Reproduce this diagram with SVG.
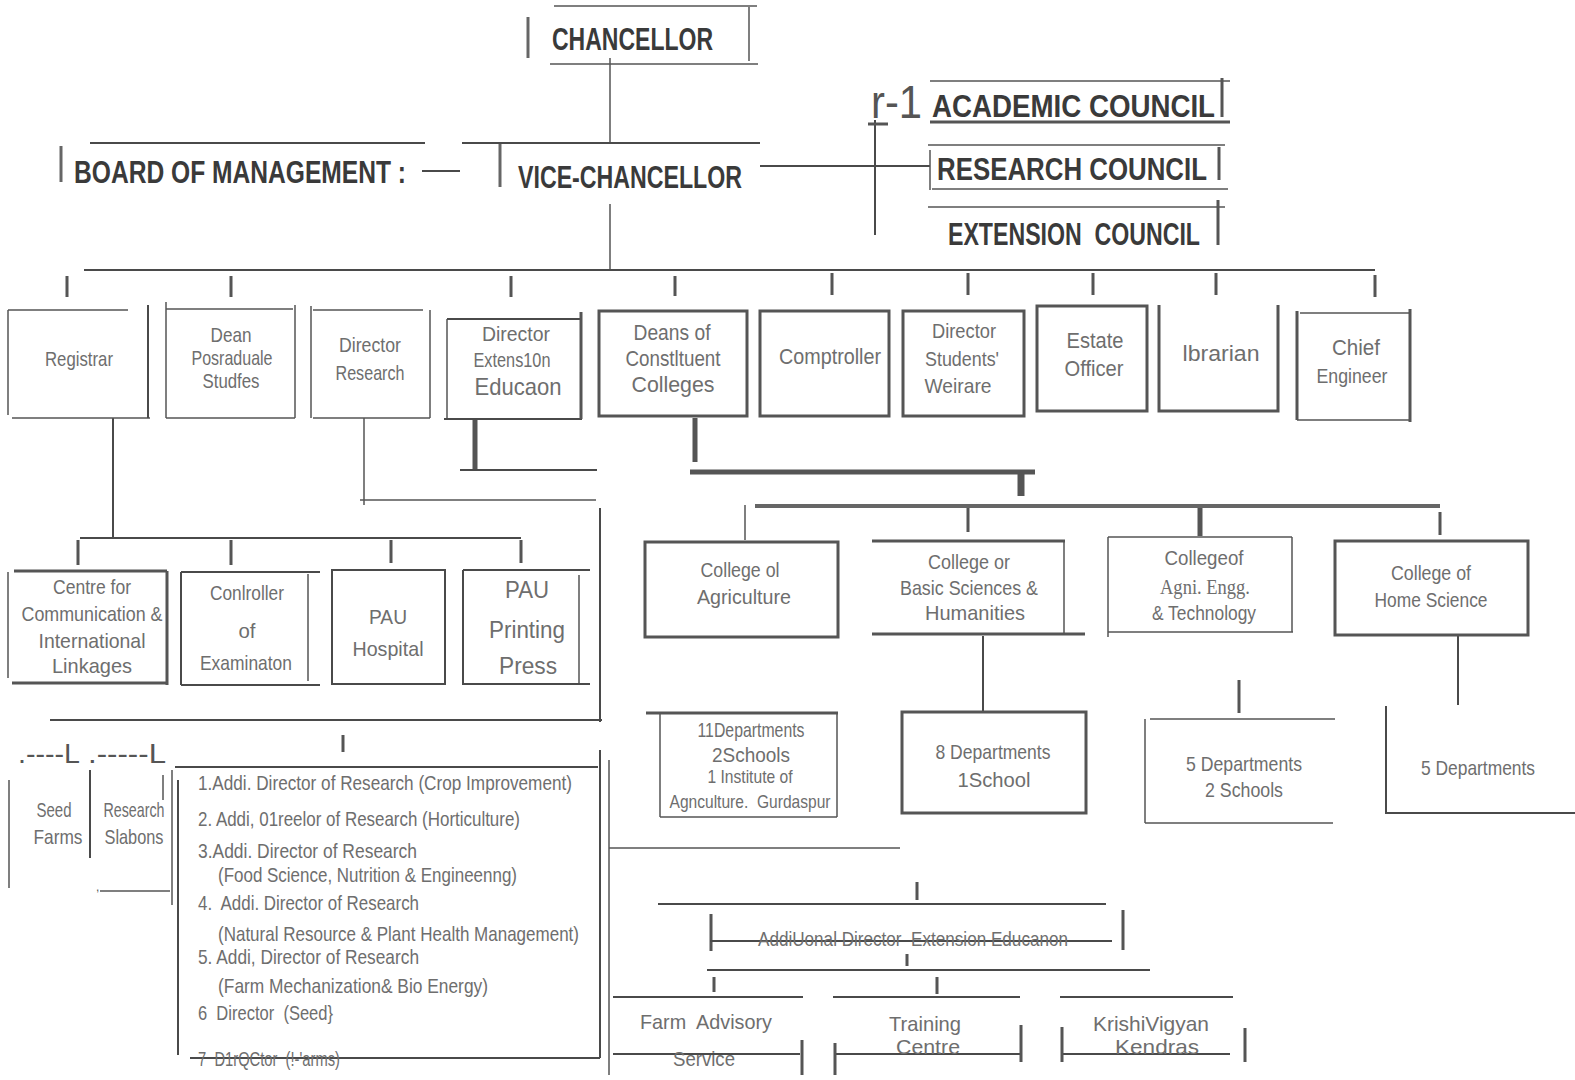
<svg xmlns="http://www.w3.org/2000/svg" width="1575" height="1080" viewBox="0 0 1575 1080">
<style>
text{white-space:pre}
.t{font-family:"Liberation Sans Narrow","Liberation Sans",Arial,sans-serif;font-weight:bold;fill:#3a3a3a;font-size:32px}
.l{font-family:"Liberation Sans Narrow","Liberation Sans",Arial,sans-serif;fill:#6e6e6e;font-size:21px;text-anchor:middle}
.ls{font-family:"Liberation Sans Narrow","Liberation Sans",Arial,sans-serif;fill:#6e6e6e;font-size:21px}
.sf{font-family:"Liberation Serif","Times New Roman",serif;fill:#6e6e6e;font-size:21px;text-anchor:middle}
.k{stroke:#4a4a4a;stroke-width:2;fill:none}
.k1{stroke:#555;stroke-width:1.5;fill:none}
.k3{stroke:#555;stroke-width:3;fill:none}
.k5{stroke:#555;stroke-width:5;fill:none}
</style>
<rect width="1575" height="1080" fill="#fff"/>

<g id="connectors">
<path class="k1" d="M610 58V142M610 204V270"/>
<path class="k" d="M422 171H460M760 166H930M875 120V235"/>
<path class="k3" d="M868 124H888"/>
<path class="k" d="M84 270H1375"/>
<path class="k3" d="M67 276V297M231 276V297M511 276V297M675 276V296M832 273V295M968 273V295M1093 273V295M1216 273V295M1375 275V297"/>
<path class="k" d="M113 418V538M80 538H521"/>
<path class="k3" d="M78 540V565M231 540V565M391 540V563M521 540V563"/>
<path class="k1" d="M364 418V505M360 500H596"/>
<path class="k5" d="M475 420V470"/>
<path class="k" d="M460 470H597M600 508V722M50 720H602"/>
<path class="k1" d="M609 760V1075M609 848H900"/>
<path class="k3" d="M343 735V752"/>
<path class="k5" d="M695 418V462M690 472H1035"/>
<path stroke="#555" stroke-width="7" d="M1021 474V496"/>
<path style="stroke:#666;stroke-width:4;fill:none" d="M755 506H1440"/>
<path class="k1" d="M745 505V540"/>
<path class="k3" d="M968 508V532M1440 512V535"/>
<path class="k5" d="M1200 508V536"/>
<path class="k" d="M983 636V712M1458 636V705"/>
<path class="k3" d="M1239 680V713"/>
<path class="k3" d="M917 882V900M907 954V966M714 977V992M937 977V994"/>
<path class="k" d="M658 904H1106M707 970H1150"/>
</g>

<g id="chancellor">
<path class="k1" d="M554 6H757M749 7V61M550 64H758"/>
<path class="k3" style="stroke:#666" d="M528 17V58"/>
<text class="t" x="552" y="50" textLength="161" lengthAdjust="spacingAndGlyphs">CHANCELLOR</text>
</g>

<g id="vice-chancellor">
<path class="k" d="M462 143H760"/>
<path class="k3" style="stroke:#666" d="M500 144V187"/>
<text class="t" x="518" y="188" textLength="224" lengthAdjust="spacingAndGlyphs">VICE-CHANCELLOR</text>
</g>

<g id="board-of-management">
<path class="k3" style="stroke:#666" d="M61 146V182"/>
<path class="k" d="M90 143H425"/>
<text class="t" x="74" y="183" textLength="332" lengthAdjust="spacingAndGlyphs">BOARD OF MANAGEMENT :</text>
</g>

<g id="academic-council">
<text x="871" y="118" font-family="Liberation Sans Narrow,Liberation Sans,sans-serif" font-size="46" fill="#555" textLength="51" lengthAdjust="spacingAndGlyphs">r-1</text>
<path class="k1" d="M930 81H1230"/>
<path class="k3" d="M930 122H1230M1222 78V117"/>
<text class="t" x="932" y="117" textLength="283" lengthAdjust="spacingAndGlyphs">ACADEMIC COUNCIL</text>
</g>

<g id="research-council">
<path class="k1" d="M928 145H1225M932 189H1228"/>
<path class="k3" d="M1219 147V180"/>
<path class="k1" d="M930 150V190"/>
<text class="t" x="937" y="180" textLength="270" lengthAdjust="spacingAndGlyphs">RESEARCH COUNCIL</text>
</g>

<g id="extension-council">
<path class="k1" d="M928 207H1225"/>
<path class="k3" d="M1218 200V245"/>
<text class="t" x="948" y="245" textLength="252" lengthAdjust="spacingAndGlyphs">EXTENSION  COUNCIL</text>
</g>

<g id="registrar">
<path class="k1" d="M8 310H128M8 310V415M12 418H150"/>
<path class="k" d="M148 305V418"/>
<text class="l" x="79" y="366" textLength="68" lengthAdjust="spacingAndGlyphs">Registrar</text>
</g>
<g id="dean-pg">
<path class="k1" d="M166 302V418M166 309H293M166 418H295M295 305V418"/>
<text class="l" x="231" y="342" textLength="41" lengthAdjust="spacingAndGlyphs">Dean</text>
<text class="l" x="232" y="365" textLength="81" lengthAdjust="spacingAndGlyphs">Posraduale</text>
<text class="l" x="231" y="388" textLength="57" lengthAdjust="spacingAndGlyphs">Studfes</text>
</g>
<g id="director-research">
<path class="k1" d="M311 306V418M313 310H423M313 418H430M430 310V418"/>
<text class="l" x="370" y="352" textLength="62" lengthAdjust="spacingAndGlyphs">Director</text>
<text class="l" x="370" y="380" textLength="69" lengthAdjust="spacingAndGlyphs">Research</text>
</g>
<g id="director-extension">
<path class="k1" d="M447 319V418"/>
<path class="k" d="M447 319H582M444 419H582"/>
<path class="k3" d="M581 312V419"/>
<text class="l" x="516" y="341" textLength="68" lengthAdjust="spacingAndGlyphs">Director</text>
<text class="l" x="512" y="367" textLength="77" lengthAdjust="spacingAndGlyphs">Extens10n</text>
<text class="l" x="518" y="395" style="font-size:24px" textLength="87" lengthAdjust="spacingAndGlyphs">Educaon</text>
</g>
<g id="deans-colleges">
<rect class="k3" x="599" y="311" width="148" height="105"/>
<text class="l" x="672" y="340" style="font-size:22px" textLength="77" lengthAdjust="spacingAndGlyphs">Deans of</text>
<text class="l" x="673" y="366" style="font-size:22px" textLength="95" lengthAdjust="spacingAndGlyphs">Constltuent</text>
<text class="l" x="673" y="392" style="font-size:22px" textLength="83" lengthAdjust="spacingAndGlyphs">Colleges</text>
</g>
<g id="comptroller">
<rect class="k3" x="760" y="311" width="129" height="105"/>
<text class="l" x="830" y="364" style="font-size:22px" textLength="102" lengthAdjust="spacingAndGlyphs">Comptroller</text>
</g>
<g id="director-students-welfare">
<rect class="k3" x="903" y="311" width="121" height="105"/>
<text class="l" x="964" y="338" textLength="64" lengthAdjust="spacingAndGlyphs">Director</text>
<text class="l" x="962" y="366" textLength="74" lengthAdjust="spacingAndGlyphs">Students'</text>
<text class="l" x="958" y="393" textLength="67" lengthAdjust="spacingAndGlyphs">Weirare</text>
</g>
<g id="estate-officer">
<rect class="k3" x="1037" y="306" width="110" height="105"/>
<text class="l" x="1095" y="348" style="font-size:22px" textLength="57" lengthAdjust="spacingAndGlyphs">Estate</text>
<text class="l" x="1094" y="376" style="font-size:22px" textLength="59" lengthAdjust="spacingAndGlyphs">Officer</text>
</g>
<g id="librarian">
<path class="k3" d="M1159 305V411H1278V305"/>
<text class="l" x="1221" y="361" style="font-size:22px" textLength="77" lengthAdjust="spacingAndGlyphs">lbrarian</text>
</g>
<g id="chief-engineer">
<path class="k1" d="M1300 313H1409M1297 420H1411"/>
<path class="k3" d="M1297 311V420M1410 309V422"/>
<text class="l" x="1356" y="355" style="font-size:22px" textLength="48" lengthAdjust="spacingAndGlyphs">Chief</text>
<text class="l" x="1352" y="383" textLength="71" lengthAdjust="spacingAndGlyphs">Engineer</text>
</g>

<g id="centre-communication">
<path class="k1" d="M8 572V678"/>
<path class="k3" d="M14 571H167M167 571V685M12 683H167"/>
<text class="l" x="92" y="594" textLength="78" lengthAdjust="spacingAndGlyphs">Centre for</text>
<text class="l" x="92" y="621" textLength="141" lengthAdjust="spacingAndGlyphs">Communication &amp;</text>
<text class="l" x="92" y="648" textLength="107" lengthAdjust="spacingAndGlyphs">International</text>
<text class="l" x="92" y="673" textLength="80" lengthAdjust="spacingAndGlyphs">Linkages</text>
</g>
<g id="controller-examination">
<path class="k" d="M181 572V685M181 572H320M181 685H320"/>
<path class="k1" d="M308 574V681"/>
<text class="l" x="247" y="600" textLength="74" lengthAdjust="spacingAndGlyphs">Conlroller</text>
<text class="l" x="247" y="638" textLength="17" lengthAdjust="spacingAndGlyphs">of</text>
<text class="l" x="246" y="670" textLength="92" lengthAdjust="spacingAndGlyphs">Examinaton</text>
</g>
<g id="pau-hospital">
<rect class="k" x="332" y="570" width="113" height="114"/>
<text class="l" x="388" y="624" textLength="38" lengthAdjust="spacingAndGlyphs">PAU</text>
<text class="l" x="388" y="656" textLength="71" lengthAdjust="spacingAndGlyphs">Hospital</text>
</g>
<g id="pau-printing-press">
<path class="k" d="M463 570V685M463 570H590M463 684H590"/>
<path class="k1" d="M579 575V683"/>
<text class="l" x="527" y="598" style="font-size:23px" textLength="44" lengthAdjust="spacingAndGlyphs">PAU</text>
<text class="l" x="527" y="638" style="font-size:23px" textLength="76" lengthAdjust="spacingAndGlyphs">Printing</text>
<text class="l" x="528" y="674" style="font-size:23px" textLength="58" lengthAdjust="spacingAndGlyphs">Press</text>
</g>

<g id="seed-farms">
<text x="18" y="763" font-family="Liberation Sans Narrow,Liberation Sans,sans-serif" font-size="28" fill="#555" textLength="62" lengthAdjust="spacingAndGlyphs">.----L</text>
<path class="k1" d="M9 780V888"/>
<path class="k" d="M90 770V858"/>
<text class="l" x="54" y="817" textLength="35" lengthAdjust="spacingAndGlyphs">Seed</text>
<text class="l" x="58" y="844" textLength="49" lengthAdjust="spacingAndGlyphs">Farms</text>
</g>
<g id="research-stations">
<text x="88" y="763" font-family="Liberation Sans Narrow,Liberation Sans,sans-serif" font-size="28" fill="#555" textLength="78" lengthAdjust="spacingAndGlyphs">.-----L</text>
<path class="k1" d="M163 775V800M172 770V905M100 891H170"/>
<text x="96" y="891" font-family="Liberation Sans,sans-serif" font-size="12" fill="#555">,</text>
<text class="l" x="134" y="817" textLength="61" lengthAdjust="spacingAndGlyphs">Research</text>
<text class="l" x="134" y="844" textLength="59" lengthAdjust="spacingAndGlyphs">Slabons</text>
</g>
<g id="research-directors-list">
<path class="k" d="M175 767H598M600 750V1058M178 780V1055M190 1058H600"/>
<text class="ls" x="198" y="790" textLength="374" lengthAdjust="spacingAndGlyphs">1.Addi. Director of Research (Crop Improvement)</text>
<text class="ls" x="198" y="826" textLength="322" lengthAdjust="spacingAndGlyphs">2. Addi, 01reelor of Research (Horticulture)</text>
<text class="ls" x="198" y="858" textLength="219" lengthAdjust="spacingAndGlyphs">3.Addi. Director of Research</text>
<text class="ls" x="218" y="882" textLength="299" lengthAdjust="spacingAndGlyphs">(Food Science, Nutrition &amp; Engineenng)</text>
<text class="ls" x="198" y="910" textLength="221" lengthAdjust="spacingAndGlyphs">4.  Addi. Director of Research</text>
<text class="ls" x="218" y="941" textLength="361" lengthAdjust="spacingAndGlyphs">(Natural Resource &amp; Plant Health Management)</text>
<text class="ls" x="198" y="964" textLength="221" lengthAdjust="spacingAndGlyphs">5. Addi, Director of Research</text>
<text class="ls" x="218" y="993" textLength="270" lengthAdjust="spacingAndGlyphs">(Farm Mechanization&amp; Bio Energy)</text>
<text class="ls" x="198" y="1020" textLength="135" lengthAdjust="spacingAndGlyphs">6  Director  (Seed}</text>
<text class="ls" x="198" y="1066" textLength="142" lengthAdjust="spacingAndGlyphs">7  D1rQCtor  (!-'arms)</text>
</g>

<g id="college-agriculture">
<rect class="k3" x="645" y="542" width="193" height="95"/>
<text class="l" x="740" y="577" textLength="79" lengthAdjust="spacingAndGlyphs">College ol</text>
<text class="l" x="744" y="604" textLength="94" lengthAdjust="spacingAndGlyphs">Agriculture</text>
</g>
<g id="college-basic-sciences">
<path class="k3" d="M872 541H1065M872 634H1085"/>
<path class="k1" d="M1064 541V634"/>
<text class="l" x="969" y="569" textLength="82" lengthAdjust="spacingAndGlyphs">College or</text>
<text class="l" x="969" y="595" textLength="138" lengthAdjust="spacingAndGlyphs">Basic Sciences &amp;</text>
<text class="l" x="975" y="620" textLength="100" lengthAdjust="spacingAndGlyphs">Humanities</text>
</g>
<g id="college-agri-engg">
<path class="k1" d="M1108 537H1292M1108 537V637M1108 632H1293M1292 537V632"/>
<text class="l" x="1204" y="565" textLength="79" lengthAdjust="spacingAndGlyphs">Collegeof</text>
<text class="sf" x="1205" y="594" textLength="90" lengthAdjust="spacingAndGlyphs">Agni. Engg.</text>
<text class="l" x="1204" y="620" textLength="104" lengthAdjust="spacingAndGlyphs">&amp; Technology</text>
</g>
<g id="college-home-science">
<rect class="k3" x="1335" y="541" width="193" height="94"/>
<text class="l" x="1431" y="580" textLength="80" lengthAdjust="spacingAndGlyphs">College of</text>
<text class="l" x="1431" y="607" textLength="113" lengthAdjust="spacingAndGlyphs">Home Science</text>
</g>

<g id="agriculture-departments">
<path class="k3" d="M646 713H838"/>
<path class="k1" d="M660 713V817M837 713V817M660 817H837"/>
<text class="ls" x="751" y="737" text-anchor="middle" textLength="107" lengthAdjust="spacingAndGlyphs">11Departments</text>
<text class="ls" x="751" y="762" text-anchor="middle" textLength="78" lengthAdjust="spacingAndGlyphs">2Schools</text>
<text class="ls" x="750" y="783" text-anchor="middle" style="font-size:19px" textLength="85" lengthAdjust="spacingAndGlyphs">1 Institute of</text>
<text class="ls" x="750" y="808" text-anchor="middle" style="font-size:19px" textLength="161" lengthAdjust="spacingAndGlyphs">Agnculture.  Gurdaspur</text>
</g>
<g id="bsh-departments">
<rect class="k3" x="902" y="712" width="184" height="101"/>
<text class="l" x="993" y="759" textLength="115" lengthAdjust="spacingAndGlyphs">8 Departments</text>
<text class="l" x="994" y="787" textLength="73" lengthAdjust="spacingAndGlyphs">1School</text>
</g>
<g id="agri-engg-departments">
<path class="k1" d="M1150 719H1335M1145 719V823M1145 823H1333"/>
<text class="l" x="1244" y="771" textLength="116" lengthAdjust="spacingAndGlyphs">5 Departments</text>
<text class="l" x="1244" y="797" textLength="78" lengthAdjust="spacingAndGlyphs">2 Schools</text>
</g>
<g id="home-science-departments">
<path class="k" d="M1386 706V813H1575"/>
<text class="l" x="1478" y="775" textLength="114" lengthAdjust="spacingAndGlyphs">5 Departments</text>
</g>

<g id="additional-director-extension">
<path class="k3" d="M711 914V951M1123 910V950"/>
<path class="k" d="M710 941H1112"/>
<text class="l" x="913" y="946" textLength="310" lengthAdjust="spacingAndGlyphs">AddiUonal Director  Extension Educanon</text>
</g>
<g id="farm-advisory-service">
<path class="k" d="M613 997H803M613 1054H800"/>
<path class="k3" d="M802 1040V1075"/>
<text class="l" x="706" y="1029" textLength="132" lengthAdjust="spacingAndGlyphs">Farm  Advisory</text>
<text class="l" x="704" y="1066" textLength="62" lengthAdjust="spacingAndGlyphs">Service</text>
</g>
<g id="training-centre">
<path class="k" d="M833 997H1020M835 1054H1020"/>
<path class="k3" d="M835 1043V1075M1021 1025V1062"/>
<text class="l" x="925" y="1031" textLength="72" lengthAdjust="spacingAndGlyphs">Training</text>
<text class="l" x="928" y="1054" textLength="64" lengthAdjust="spacingAndGlyphs">Centre</text>
</g>
<g id="krishi-vigyan-kendras">
<path class="k" d="M1060 997H1233M1062 1054H1230"/>
<path class="k3" d="M1062 1027V1062M1245 1028V1062"/>
<text class="l" x="1151" y="1031" textLength="116" lengthAdjust="spacingAndGlyphs">KrishiVigyan</text>
<text class="l" x="1157" y="1054" textLength="84" lengthAdjust="spacingAndGlyphs">Kendras</text>
</g>
</svg>
